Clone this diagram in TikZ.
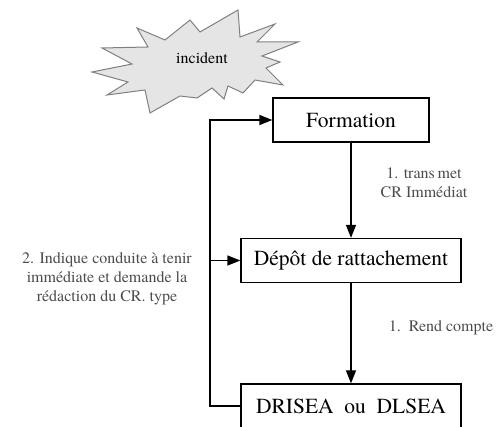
\documentclass[tikz,border=0pt]{standalone}
\usepackage{fontspec}
\setmainfont{TeX Gyre Termes}
\usetikzlibrary{arrows.meta, positioning}

\begin{document}
\begin{tikzpicture}[x=1pt, y=1pt,
  box/.style={draw, line width=1.2pt, minimum height=44pt, inner sep=0pt,
    font=\fontsize{21.5}{24}\selectfont},
  lbl/.style={text=black!70, align=center, font=\fontsize{16}{19}\selectfont},
  link/.style={line width=1.2pt, -{Triangle[length=13pt,width=10pt]}}]

  \useasboundingbox (0,0) rectangle (498,427);

  % the burst
  \draw[gray, fill=black!10, line width=1pt]
    (137,399) -- (165,387) -- (190,407) -- (200,395) -- (238,417) -- (240,390)
    -- (275,403) -- (257,385) -- (298,385) -- (262,371) -- (280,365) -- (266,359)
    -- (283,342) -- (255,347) -- (243,334) -- (228,341) -- (224,328) -- (212,339)
    -- (197,329) -- (180,331) -- (150,314) -- (145,337) -- (107,332) -- (128,345)
    -- (92,355) -- (132,363) -- (102,379) -- (148,380) -- cycle;
  \node[font=\fontsize{16}{18}\selectfont] (incid) at (202,369) {incident};

  \node[box, minimum width=156pt] (form) at (351,307) {Formation};
  \node[box, minimum width=220pt] (depot) at (351,166.5) {Dépôt de rattachement};
  \node[box, minimum width=220pt] (drisea) at (351,21) {DRISEA\ \ ou\ \ DLSEA};

  \coordinate (top) at (210,307);
  \coordinate (bot) at (210,21);
  \coordinate (mid) at (210,166.5);

  \draw[link] (form.south) -- (depot.north);
  \draw[link] (depot.south) -- (drisea.north);
  \draw[link] (drisea.west) -- (bot) -- (top) -- (form.west);
  \draw[link] (mid) -- (depot.west);

  \node[lbl] (l1) at (424,244) {1. trans\,met\\CR Immédiat};
  \node[lbl] (l2) at (441,99) {1.\ \ Rend compte};
  \node[lbl] (l3) at (107,148) {2. Indique conduite à tenir\\immédiate et demande la\\rédaction du CR. type};
\end{tikzpicture}
\end{document}
